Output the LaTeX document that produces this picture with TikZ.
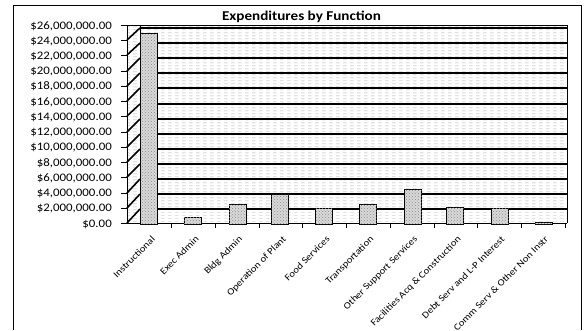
\documentclass[tikz,border=0pt]{standalone}
\usepackage{fontspec}
\setmainfont[FakeStretch=1.12]{Carlito}
\usetikzlibrary{patterns,patterns.meta}
\tikzdeclarepattern{
  name=hdash,
  type=uncolored,
  bounding box={(0pt,0pt) and (7pt,3pt)},
  tile size={(7pt,3pt)},
  code={\draw[line width=0.45pt] (0pt,1.5pt) -- (4pt,1.5pt);}
}
\tikzset{
  frameline/.style={line width=0.9pt,black},
  wall/.style={fill=white,postaction={pattern=hdash,pattern color=gray!60}},
  grid/.style={line width=1.6pt,black},
  barbox/.style={draw=black,line width=0.7pt,fill=gray!30,postaction={pattern=crosshatch dots,pattern color=gray!90}},
  ylab/.style={anchor=base east,font=\fontsize{11.5}{11.5}\selectfont,inner sep=0pt},
  xlab/.style={anchor=north east,rotate=45,font=\fontsize{9.5}{9.5}\selectfont,inner sep=0pt},
  ttl/.style={anchor=base,font=\fontsize{13.5}{13.5}\selectfont\bfseries,inner sep=0pt}
}
\begin{document}
\begin{tikzpicture}[x=1pt,y=-1pt]
\useasboundingbox (0,0) rectangle (587,330);
% outer frame
\draw[frameline] (13,330) -- (13,5) -- (581,5) -- (581,330);
% title
\node[ttl] (title) at (301.5,20.5) {Expenditures by Function};
% walls and floor
\path[wall] (140,25) rectangle (567,209);
\path[wall] (127,25) -- (140,25) -- (140,209) -- (127,223) -- cycle;
\path[wall] (127,223) -- (567,223) -- (567,209) -- (140,209) -- cycle;
% gridlines
\foreach \k in {0,...,12}{
  \draw[grid] (140,{round(209-15.07*\k)}) -- (567,{round(209-15.07*\k)});
  \draw[grid] (127,{round(223-15.23*\k)}) -- (140,{round(209-15.07*\k)});
}
\draw[line width=0.8pt] (127,25) -- (567,25) -- (567,223);
\draw[line width=0.6pt] (140,25) -- (140,209);
% axes
\draw[line width=1pt] (127,25) -- (127,223) -- (567,223);
\foreach \k in {0,...,13}{
  \draw[line width=0.8pt] (121,{round(223-15.23*\k)}) -- (127,{round(223-15.23*\k)});
}
\foreach \k in {1,...,10}{
  \draw[line width=0.8pt] ({128+43.7*\k},223) -- ({128+43.7*\k},228);
}
% y labels
\foreach \v [count=\k from 0] in {{\$0.00},{\$2,000,000.00},{\$4,000,000.00},{\$6,000,000.00},{\$8,000,000.00},{\$10,000,000.00},{\$12,000,000.00},{\$14,000,000.00},{\$16,000,000.00},{\$18,000,000.00},{\$20,000,000.00},{\$22,000,000.00},{\$24,000,000.00},{\$26,000,000.00}}{
  \node[ylab] (y\k) at (112,{223-15.23*\k+4}) {\v};
}
% bars
\foreach \c/\t [count=\i] in {148.5/33,192.5/217,237.5/204,280/194,324/208,368/204,413/189,455/207,500/208,543.5/222}{
  \draw[barbox] ({\c-8.5},224) rectangle ({\c+8.5},\t);
}
% x labels
\foreach \lab [count=\i from 0] in {Instructional,Exec Admin,Bldg Admin,Operation of Plant,Food Services,Transportation,Other Support Services,Facilities Acq \& Construction,Debt Serv and L-P Interest,Comm Serv \& Other Non Instr}{
  \node[xlab] (x\i) at ({128+43.7*(\i+0.5)+1},235) {\lab};
}
\end{tikzpicture}
\end{document}
